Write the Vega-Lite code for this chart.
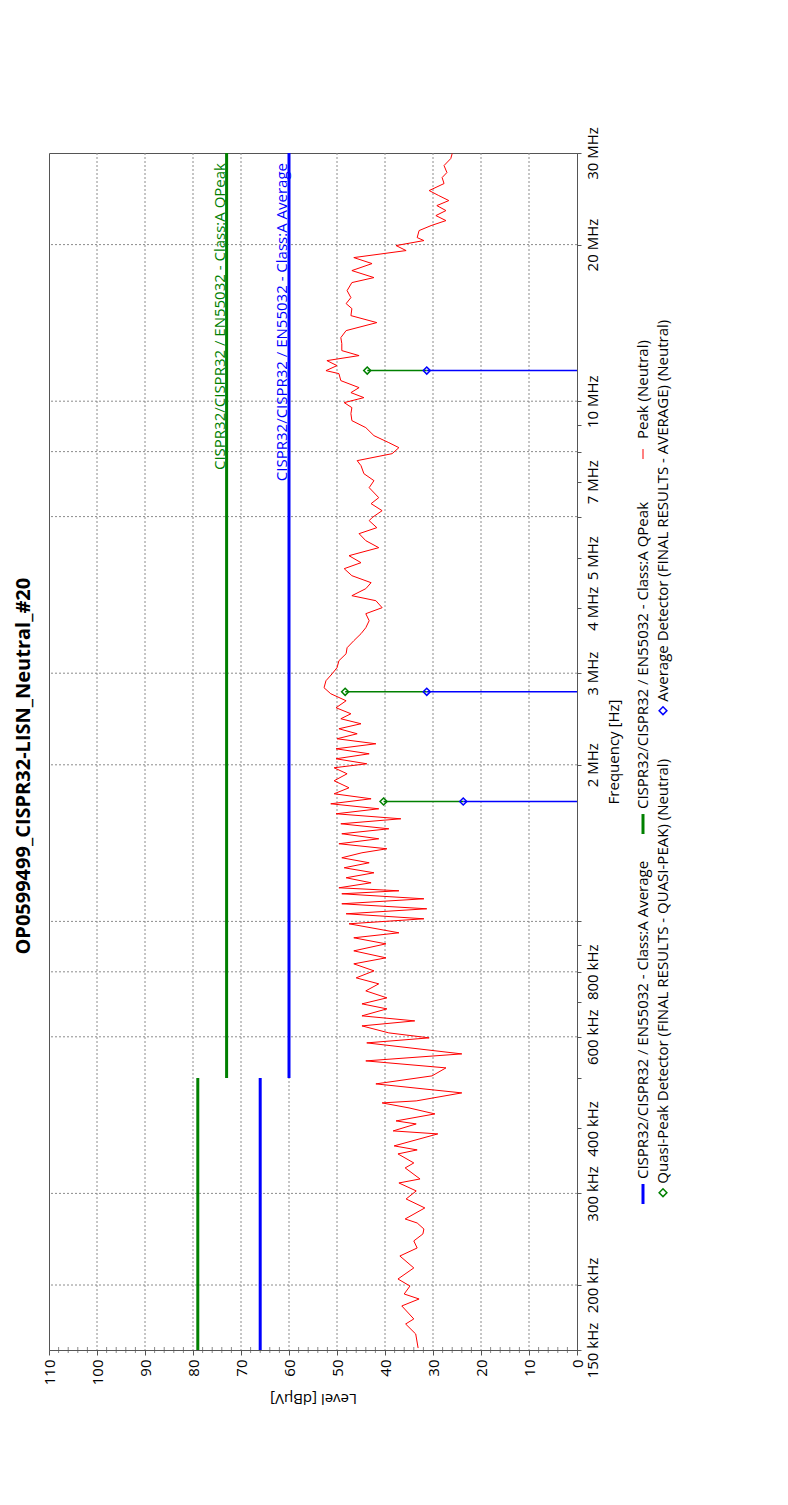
{
  "$schema": "https://vega.github.io/schema/vega-lite/v6.json",
  "background": "white",
  "padding": {"left": 13, "top": 126, "right": 0, "bottom": 30},
  "title": {"text": "OP0599499_CISPR32-LISN_Neutral_#20", "orient": "left", "anchor": "middle", "fontSize": 20, "fontWeight": "bold", "font": "Open Sans", "color": "#000000", "offset": 8},
  "config": {
    "font": "Open Sans",
    "view": {"stroke": "#555555", "strokeWidth": 1},
    "axis": {"labelFont": "Open Sans", "titleFont": "Open Sans", "labelFontSize": 15, "titleFontSize": 15, "titleFontWeight": "normal", "labelColor": "#000000", "titleColor": "#000000", "domainColor": "#555555", "tickColor": "#555555", "labelOverlap": false, "labelFlush": false},
    "legend": {"disable": true},
    "text": {"font": "Open Sans", "fontSize": 15}
  },
  "datasets": {
    "levelGrid": [{"level": 10}, {"level": 20}, {"level": 30}, {"level": 40}, {"level": 50}, {"level": 60}, {"level": 70}, {"level": 80}, {"level": 90}, {"level": 100}],
    "levelMinor": [{"level": 2}, {"level": 4}, {"level": 6}, {"level": 8}, {"level": 12}, {"level": 14}, {"level": 16}, {"level": 18}, {"level": 22}, {"level": 24}, {"level": 26}, {"level": 28}, {"level": 32}, {"level": 34}, {"level": 36}, {"level": 38}, {"level": 42}, {"level": 44}, {"level": 46}, {"level": 48}, {"level": 52}, {"level": 54}, {"level": 56}, {"level": 58}, {"level": 62}, {"level": 64}, {"level": 66}, {"level": 68}, {"level": 72}, {"level": 74}, {"level": 76}, {"level": 78}, {"level": 82}, {"level": 84}, {"level": 86}, {"level": 88}, {"level": 92}, {"level": 94}, {"level": 96}, {"level": 98}, {"level": 102}, {"level": 104}, {"level": 106}, {"level": 108}],
    "freqGrid": [{"freq": 200000}, {"freq": 300000}, {"freq": 600000}, {"freq": 800000}, {"freq": 1000000}, {"freq": 2000000}, {"freq": 3000000}, {"freq": 6000000}, {"freq": 8000000}, {"freq": 10000000}, {"freq": 20000000}],
    "limits": [
      {"series": "CISPR32/CISPR32 / EN55032 - Class:A QPeak", "seg": "low", "freq": 150000, "level": 79},
      {"series": "CISPR32/CISPR32 / EN55032 - Class:A QPeak", "seg": "low", "freq": 500000, "level": 79},
      {"series": "CISPR32/CISPR32 / EN55032 - Class:A QPeak", "seg": "high", "freq": 500000, "level": 73},
      {"series": "CISPR32/CISPR32 / EN55032 - Class:A QPeak", "seg": "high", "freq": 30000000, "level": 73},
      {"series": "CISPR32/CISPR32 / EN55032 - Class:A Average", "seg": "low", "freq": 150000, "level": 66},
      {"series": "CISPR32/CISPR32 / EN55032 - Class:A Average", "seg": "low", "freq": 500000, "level": 66},
      {"series": "CISPR32/CISPR32 / EN55032 - Class:A Average", "seg": "high", "freq": 500000, "level": 60},
      {"series": "CISPR32/CISPR32 / EN55032 - Class:A Average", "seg": "high", "freq": 30000000, "level": 60}
    ],
    "detectors": [
      {"series": "Quasi-Peak Detector (FINAL RESULTS - QUASI-PEAK) (Neutral)", "freq": 1700000, "level": 40.3},
      {"series": "Quasi-Peak Detector (FINAL RESULTS - QUASI-PEAK) (Neutral)", "freq": 2763000, "level": 48.3},
      {"series": "Quasi-Peak Detector (FINAL RESULTS - QUASI-PEAK) (Neutral)", "freq": 11450000, "level": 43.7},
      {"series": "Average Detector (FINAL RESULTS - AVERAGE) (Neutral)", "freq": 1700000, "level": 23.7},
      {"series": "Average Detector (FINAL RESULTS - AVERAGE) (Neutral)", "freq": 2763000, "level": 31.3},
      {"series": "Average Detector (FINAL RESULTS - AVERAGE) (Neutral)", "freq": 11450000, "level": 31.3}
    ],
    "legend": [
      {"series": "Peak (Neutral)", "kind": "line"},
      {"series": "CISPR32/CISPR32 / EN55032 - Class:A QPeak", "kind": "line"},
      {"series": "CISPR32/CISPR32 / EN55032 - Class:A Average", "kind": "line"},
      {"series": "Average Detector (FINAL RESULTS - AVERAGE) (Neutral)", "kind": "marker"},
      {"series": "Quasi-Peak Detector (FINAL RESULTS - QUASI-PEAK) (Neutral)", "kind": "marker"}
    ],
    "trace": [
      {"freq": 151300, "level": 33.1}, {"freq": 161000, "level": 33.6}, {"freq": 168300, "level": 35.7}, {"freq": 172100, "level": 34.0},
      {"freq": 182300, "level": 36.5}, {"freq": 188000, "level": 32.9}, {"freq": 192200, "level": 36.0}, {"freq": 199100, "level": 34.8},
      {"freq": 205400, "level": 37.3}, {"freq": 215700, "level": 34.0}, {"freq": 227400, "level": 36.9}, {"freq": 235600, "level": 33.3},
      {"freq": 243100, "level": 34.0}, {"freq": 250700, "level": 32.1}, {"freq": 256300, "level": 31.9}, {"freq": 263200, "level": 33.3},
      {"freq": 267900, "level": 35.8}, {"freq": 281300, "level": 31.7}, {"freq": 292700, "level": 35.6}, {"freq": 303300, "level": 33.5},
      {"freq": 314200, "level": 37.1}, {"freq": 319800, "level": 32.7}, {"freq": 335800, "level": 35.8}, {"freq": 343300, "level": 34.0},
      {"freq": 357300, "level": 37.3}, {"freq": 363700, "level": 33.3}, {"freq": 370200, "level": 38.1}, {"freq": 390400, "level": 29.0},
      {"freq": 395600, "level": 38.3}, {"freq": 408000, "level": 33.5}, {"freq": 413500, "level": 37.7}, {"freq": 426500, "level": 29.6},
      {"freq": 438000, "level": 35.0}, {"freq": 447800, "level": 40.6}, {"freq": 451800, "level": 33.5}, {"freq": 468100, "level": 24.0},
      {"freq": 487100, "level": 41.9}, {"freq": 504700, "level": 30.2}, {"freq": 522900, "level": 27.3}, {"freq": 539300, "level": 44.0},
      {"freq": 556300, "level": 24.0}, {"freq": 584100, "level": 43.8}, {"freq": 597200, "level": 30.8}, {"freq": 610500, "level": 39.2},
      {"freq": 629700, "level": 44.8}, {"freq": 643800, "level": 33.8}, {"freq": 658300, "level": 44.8}, {"freq": 679000, "level": 39.6},
      {"freq": 694200, "level": 44.8}, {"freq": 712900, "level": 39.6}, {"freq": 735300, "level": 44.0}, {"freq": 758500, "level": 41.3},
      {"freq": 778900, "level": 46.0}, {"freq": 803400, "level": 42.3}, {"freq": 828700, "level": 46.5}, {"freq": 851000, "level": 39.8},
      {"freq": 877800, "level": 46.5}, {"freq": 905400, "level": 39.8}, {"freq": 930000, "level": 46.5}, {"freq": 950800, "level": 37.1},
      {"freq": 989500, "level": 47.5}, {"freq": 1011600, "level": 31.9}, {"freq": 1034300, "level": 48.1}, {"freq": 1057400, "level": 31.3},
      {"freq": 1081100, "level": 49.0}, {"freq": 1105300, "level": 31.9}, {"freq": 1130000, "level": 49.0}, {"freq": 1145100, "level": 37.1},
      {"freq": 1160400, "level": 49.6}, {"freq": 1186400, "level": 42.9}, {"freq": 1213000, "level": 48.1}, {"freq": 1240100, "level": 42.3},
      {"freq": 1267900, "level": 48.5}, {"freq": 1296300, "level": 43.3}, {"freq": 1325300, "level": 49.0}, {"freq": 1355000, "level": 44.8},
      {"freq": 1379200, "level": 39.6}, {"freq": 1410100, "level": 49.6}, {"freq": 1441600, "level": 41.3}, {"freq": 1473900, "level": 49.0},
      {"freq": 1506600, "level": 39.2}, {"freq": 1540400, "level": 49.2}, {"freq": 1574900, "level": 36.7}, {"freq": 1610100, "level": 50.2},
      {"freq": 1646200, "level": 41.3}, {"freq": 1683000, "level": 51.3}, {"freq": 1720700, "level": 42.9}, {"freq": 1759200, "level": 50.6},
      {"freq": 1806600, "level": 47.5}, {"freq": 1863500, "level": 50.6}, {"freq": 1922100, "level": 47.9}, {"freq": 1973900, "level": 50.6},
      {"freq": 2009100, "level": 43.8}, {"freq": 2054100, "level": 50.2}, {"freq": 2100000, "level": 43.3}, {"freq": 2147000, "level": 50.2},
      {"freq": 2195100, "level": 41.9}, {"freq": 2244200, "level": 50.0}, {"freq": 2294400, "level": 45.8}, {"freq": 2345900, "level": 49.6},
      {"freq": 2398400, "level": 45.0}, {"freq": 2452100, "level": 49.2}, {"freq": 2507000, "level": 47.1}, {"freq": 2574500, "level": 50.2},
      {"freq": 2655600, "level": 48.1}, {"freq": 2739200, "level": 51.3}, {"freq": 2813000, "level": 52.7}, {"freq": 2901600, "level": 52.3},
      {"freq": 2993000, "level": 51.0}, {"freq": 3073500, "level": 50.0}, {"freq": 3170300, "level": 49.6}, {"freq": 3270200, "level": 48.1},
      {"freq": 3358200, "level": 47.9}, {"freq": 3464000, "level": 46.5}, {"freq": 3573000, "level": 45.0}, {"freq": 3669300, "level": 44.0},
      {"freq": 3784800, "level": 43.3}, {"freq": 3903900, "level": 44.0}, {"freq": 4009000, "level": 40.6}, {"freq": 4135200, "level": 41.9},
      {"freq": 4227900, "level": 46.9}, {"freq": 4361000, "level": 44.0}, {"freq": 4478400, "level": 42.9}, {"freq": 4619400, "level": 46.9},
      {"freq": 4764900, "level": 48.5}, {"freq": 4893200, "level": 45.0}, {"freq": 5047200, "level": 47.5}, {"freq": 5229200, "level": 41.3},
      {"freq": 5393700, "level": 44.0}, {"freq": 5563500, "level": 45.4}, {"freq": 5713400, "level": 41.7}, {"freq": 5893200, "level": 43.3},
      {"freq": 5972000, "level": 42.7}, {"freq": 6159900, "level": 40.6}, {"freq": 6353900, "level": 42.9}, {"freq": 6524900, "level": 41.3},
      {"freq": 6820200, "level": 43.3}, {"freq": 7034900, "level": 42.3}, {"freq": 7256400, "level": 44.4}, {"freq": 7518000, "level": 45.0},
      {"freq": 7686300, "level": 45.8}, {"freq": 7928300, "level": 38.5}, {"freq": 8141700, "level": 37.1}, {"freq": 8324000, "level": 39.2},
      {"freq": 8586000, "level": 42.3}, {"freq": 8895600, "level": 44.0}, {"freq": 9175500, "level": 46.9}, {"freq": 9464600, "level": 47.1},
      {"freq": 9719300, "level": 46.9}, {"freq": 9936900, "level": 48.5}, {"freq": 10159000, "level": 44.4}, {"freq": 10387000, "level": 47.1},
      {"freq": 10619000, "level": 45.4}, {"freq": 10953000, "level": 49.2}, {"freq": 11298000, "level": 49.6}, {"freq": 11449000, "level": 52.3},
      {"freq": 11706000, "level": 50.0}, {"freq": 11968000, "level": 52.1}, {"freq": 12236000, "level": 45.4}, {"freq": 12510000, "level": 49.0},
      {"freq": 12903000, "level": 49.0}, {"freq": 13251000, "level": 49.2}, {"freq": 13668000, "level": 48.1}, {"freq": 14161000, "level": 41.7},
      {"freq": 14606000, "level": 47.1}, {"freq": 15066000, "level": 46.9}, {"freq": 15403000, "level": 48.1}, {"freq": 15818000, "level": 47.1},
      {"freq": 16316000, "level": 47.9}, {"freq": 16905000, "level": 46.9}, {"freq": 17283000, "level": 42.3}, {"freq": 17827000, "level": 46.9},
      {"freq": 18388000, "level": 42.7}, {"freq": 18883000, "level": 46.5}, {"freq": 19479000, "level": 35.6}, {"freq": 19914000, "level": 37.7},
      {"freq": 20359000, "level": 31.9}, {"freq": 20631000, "level": 33.3}, {"freq": 21280000, "level": 32.9}, {"freq": 21757000, "level": 30.4},
      {"freq": 22244000, "level": 27.3}, {"freq": 22742000, "level": 29.4}, {"freq": 23251000, "level": 27.3}, {"freq": 23771000, "level": 29.2},
      {"freq": 24304000, "level": 26.7}, {"freq": 24848000, "level": 28.8}, {"freq": 25404000, "level": 30.8}, {"freq": 26204000, "level": 27.7},
      {"freq": 26910000, "level": 28.1}, {"freq": 27512000, "level": 27.1}, {"freq": 28378000, "level": 27.7}, {"freq": 29272000, "level": 26.3},
      {"freq": 29927000, "level": 26.0}
    ]
  },
  "spacing": 11,
  "resolve": {"scale": {"color": "shared"}},
  "hconcat": [
    {
      "width": 528,
      "height": 1197,
      "layer": [
        {
          "data": {"name": "levelGrid"},
          "mark": {"type": "rule", "color": "#8c8c8c", "strokeDash": [2, 2], "strokeWidth": 1},
          "encoding": {
            "x": {
              "field": "level", "type": "quantitative",
              "scale": {"domain": [0, 110], "reverse": true, "nice": false, "zero": false},
              "axis": {
                "orient": "bottom", "title": "Level [dBµV]",
                "values": [0, 10, 20, 30, 40, 50, 60, 70, 80, 90, 100, 110],
                "format": "d",
                "labelAngle": 270, "labelAlign": "right", "labelBaseline": "middle",
                "labelFlush": false, "labelOverlap": false, "labelPadding": 4,
                "tickSize": 5, "grid": false,
                "titleAngle": 180, "titleBaseline": "bottom", "titlePadding": 6
              }
            }
          }
        },
        {
          "data": {"name": "freqGrid"},
          "mark": {"type": "rule", "color": "#8c8c8c", "strokeDash": [2, 2], "strokeWidth": 1},
          "encoding": {
            "y": {
              "field": "freq", "type": "quantitative",
              "scale": {"type": "log", "domain": [150000, 30000000], "nice": false},
              "axis": {
                "orient": "right", "title": "Frequency [Hz]",
                "values": [150000, 200000, 300000, 400000, 500000, 600000, 700000, 800000, 900000, 1000000, 2000000, 3000000, 4000000, 5000000, 6000000, 7000000, 8000000, 9000000, 10000000, 20000000, 30000000],
                "labelExpr": "indexof([150000,200000,300000,400000,600000,800000,2000000,3000000,4000000,5000000,7000000,10000000,20000000,30000000], datum.value) >= 0 ? (datum.value >= 1000000 ? format(datum.value / 1000000, 'd') + ' MHz' : format(datum.value / 1000, 'd') + ' kHz') : ''",
                "labelAngle": 270, "labelAlign": "center", "labelBaseline": "top",
                "labelFlush": false, "labelOverlap": false, "labelPadding": 4,
                "tickSize": 4, "grid": false,
                "titleAngle": 270, "titleBaseline": "top", "titlePadding": 6
              }
            }
          }
        },
        {
          "data": {"name": "levelMinor"},
          "mark": {"type": "tick", "color": "#555555", "thickness": 1, "size": 6, "orient": "vertical"},
          "encoding": {
            "x": {"field": "level", "type": "quantitative", "scale": {"domain": [0, 110], "reverse": true, "nice": false, "zero": false}},
            "y": {"datum": 150000, "type": "quantitative", "scale": {"type": "log", "domain": [150000, 30000000], "nice": false}}
          }
        },
        {
          "data": {"name": "limits"},
          "mark": {"type": "line", "strokeWidth": 3},
          "encoding": {
            "x": {"field": "level", "type": "quantitative", "scale": {"domain": [0, 110], "reverse": true, "nice": false, "zero": false}},
            "y": {"field": "freq", "type": "quantitative", "scale": {"type": "log", "domain": [150000, 30000000], "nice": false}},
            "detail": {"field": "seg"},
            "order": {"field": "freq", "type": "quantitative"},
            "color": {"field": "series", "type": "nominal", "legend": null, "scale": {"domain": ["CISPR32/CISPR32 / EN55032 - Class:A Average", "CISPR32/CISPR32 / EN55032 - Class:A QPeak", "Peak (Neutral)", "Quasi-Peak Detector (FINAL RESULTS - QUASI-PEAK) (Neutral)", "Average Detector (FINAL RESULTS - AVERAGE) (Neutral)"], "range": ["#0000ff", "#008000", "#ff0000", "#008000", "#0000ff"]}}
          }
        },
        {
          "data": {"name": "limits"},
          "transform": [{"filter": "datum.freq === 30000000"}],
          "mark": {"type": "text", "angle": 270, "align": "right", "baseline": "alphabetic", "dx": -10, "dy": -2, "fontSize": 15},
          "encoding": {
            "x": {"field": "level", "type": "quantitative", "scale": {"domain": [0, 110], "reverse": true, "nice": false, "zero": false}},
            "y": {"field": "freq", "type": "quantitative", "scale": {"type": "log", "domain": [150000, 30000000], "nice": false}},
            "text": {"field": "series"},
            "color": {"field": "series", "type": "nominal", "legend": null}
          }
        },
        {
          "data": {"name": "trace"},
          "mark": {"type": "line", "strokeWidth": 1},
          "encoding": {
            "x": {"field": "level", "type": "quantitative", "scale": {"domain": [0, 110], "reverse": true, "nice": false, "zero": false}},
            "y": {"field": "freq", "type": "quantitative", "scale": {"type": "log", "domain": [150000, 30000000], "nice": false}},
            "order": {"field": "freq", "type": "quantitative"},
            "color": {"datum": "Peak (Neutral)", "type": "nominal", "legend": null}
          }
        },
        {
          "data": {"name": "detectors"},
          "transform": [
            {"joinaggregate": [{"op": "min", "field": "level", "as": "avLevel"}], "groupby": ["freq"]},
            {"filter": "datum.series === 'Quasi-Peak Detector (FINAL RESULTS - QUASI-PEAK) (Neutral)'"}
          ],
          "mark": {"type": "rule", "strokeWidth": 1.5},
          "encoding": {
            "x": {"field": "level", "type": "quantitative", "scale": {"domain": [0, 110], "reverse": true, "nice": false, "zero": false}},
            "x2": {"field": "avLevel"},
            "y": {"field": "freq", "type": "quantitative", "scale": {"type": "log", "domain": [150000, 30000000], "nice": false}},
            "color": {"field": "series", "type": "nominal", "legend": null}
          }
        },
        {
          "data": {"name": "detectors"},
          "transform": [{"filter": "datum.series === 'Average Detector (FINAL RESULTS - AVERAGE) (Neutral)'"}],
          "mark": {"type": "rule", "strokeWidth": 1.5},
          "encoding": {
            "x": {"field": "level", "type": "quantitative", "scale": {"domain": [0, 110], "reverse": true, "nice": false, "zero": false}},
            "x2": {"datum": 0},
            "y": {"field": "freq", "type": "quantitative", "scale": {"type": "log", "domain": [150000, 30000000], "nice": false}},
            "color": {"field": "series", "type": "nominal", "legend": null}
          }
        },
        {
          "data": {"name": "detectors"},
          "mark": {"type": "point", "shape": "diamond", "filled": false, "size": 50, "strokeWidth": 1.5, "opacity": 1},
          "encoding": {
            "x": {"field": "level", "type": "quantitative", "scale": {"domain": [0, 110], "reverse": true, "nice": false, "zero": false}},
            "y": {"field": "freq", "type": "quantitative", "scale": {"type": "log", "domain": [150000, 30000000], "nice": false}},
            "color": {"field": "series", "type": "nominal", "legend": null}
          }
        }
      ]
    },
    {
      "width": 40,
      "height": 1197,
      "view": {"stroke": null},
      "data": {"name": "legend"},
      "resolve": {"scale": {"y": "independent"}},
      "layer": [
        {
          "transform": [{"filter": "datum.kind === 'line'"}],
          "encoding": {
            "x": {"field": "kind", "type": "nominal", "scale": {"type": "point", "domain": ["line", "marker"], "padding": 0.5}, "axis": null},
            "y": {"field": "series", "type": "nominal", "scale": {"type": "point", "domain": ["Peak (Neutral)", "CISPR32/CISPR32 / EN55032 - Class:A QPeak", "CISPR32/CISPR32 / EN55032 - Class:A Average"], "padding": 0.6176, "align": 0.6587}, "axis": null}
          },
          "layer": [
            {
              "mark": {"type": "point", "shape": "stroke", "angle": 90, "filled": false, "opacity": 1},
              "encoding": {
                "color": {"field": "series", "type": "nominal", "legend": null},
                "size": {"condition": {"test": "datum.series === 'Peak (Neutral)'", "value": 100}, "value": 400},
                "strokeWidth": {"condition": {"test": "datum.series === 'Peak (Neutral)'", "value": 1}, "value": 3}
              }
            },
            {
              "mark": {"type": "text", "angle": 270, "align": "left", "baseline": "middle", "dx": 15, "fontSize": 15, "color": "#000000"},
              "encoding": {"text": {"field": "series"}}
            }
          ]
        },
        {
          "transform": [{"filter": "datum.kind === 'marker'"}],
          "encoding": {
            "x": {"field": "kind", "type": "nominal", "scale": {"type": "point", "domain": ["line", "marker"], "padding": 0.5}, "axis": null},
            "y": {"field": "series", "type": "nominal", "scale": {"type": "point", "domain": ["Average Detector (FINAL RESULTS - AVERAGE) (Neutral)", "Quasi-Peak Detector (FINAL RESULTS - QUASI-PEAK) (Neutral)"], "padding": 0.7417, "align": 0.78}, "axis": null}
          },
          "layer": [
            {
              "mark": {"type": "point", "shape": "diamond", "filled": false, "size": 60, "strokeWidth": 1.5, "opacity": 1},
              "encoding": {"color": {"field": "series", "type": "nominal", "legend": null}}
            },
            {
              "mark": {"type": "text", "angle": 270, "align": "left", "baseline": "middle", "dx": 9, "fontSize": 15, "color": "#000000"},
              "encoding": {"text": {"field": "series"}}
            }
          ]
        }
      ]
    }
  ]
}
